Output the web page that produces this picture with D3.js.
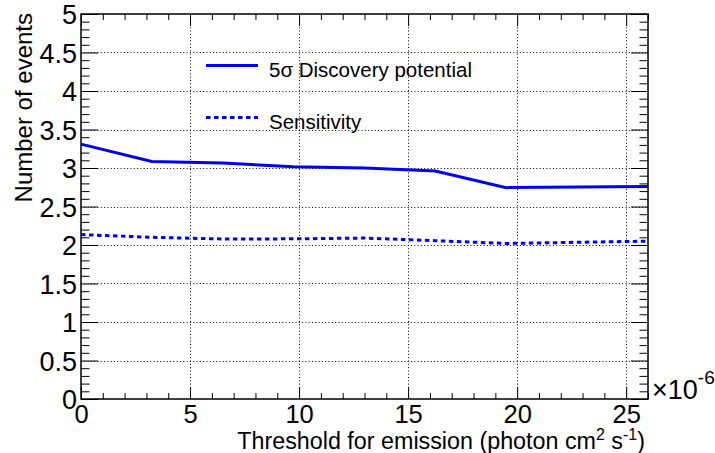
<!DOCTYPE html>
<html>
<head>
<meta charset="utf-8">
<script src="https://cdn.jsdelivr.net/npm/d3@7"></script>
<style>
  html, body { margin: 0; padding: 0; background: #fff; }
  svg { display: block; }
  text { font-family: "Liberation Sans", Arial, Helvetica, sans-serif; fill: #000; }
</style>
</head>
<body>
<svg id="chart" width="715" height="453"></svg>
<script>
// ---- data ----
const thresholds = [0, 3.25, 6.5, 9.75, 13, 16.25, 19.5, 26];           // ×10^-6 photon cm^-2 s^-1
const discovery = [3.31, 3.085, 3.065, 3.015, 3.0, 2.96, 2.745, 2.76];
const sensitivity = [2.135, 2.10, 2.078, 2.08, 2.09, 2.056, 2.02, 2.05];
const xTicks = [0, 5, 10, 15, 20, 25];
const yTicks = [0, 0.5, 1, 1.5, 2, 2.5, 3, 3.5, 4, 4.5, 5];
const yTickLabels = ["0", "0.5", "1", "1.5", "2", "2.5", "3", "3.5", "4", "4.5", "5"];
const legendLabels = ["5σ Discovery potential", "Sensitivity"];
const xTitle = "Threshold for emission (photon cm";
const yTitle = "Number of events";

// ---- layout ----
const L = 81, R = 648, T = 14, B = 399;
const svg = d3.select("#chart");
const x = d3.scaleLinear().domain([0, 26]).range([L, R]);
const y = d3.scaleLinear().domain([0, 5]).range([B, T]);

// grid
const grid = svg.append("g").attr("stroke", "#000").attr("stroke-width", 1)
  .attr("stroke-dasharray", "1,2.3").attr("fill", "none");
grid.selectAll("line.gx").data(xTicks.filter(v => v > 0)).join("line")
  .attr("x1", d => Math.round(x(d)) + 0.5).attr("x2", d => Math.round(x(d)) + 0.5)
  .attr("y1", T).attr("y2", B);
grid.selectAll("line.gy").data(yTicks.filter(v => v > 0 && v < 5)).join("line")
  .attr("y1", d => Math.round(y(d)) + 0.5).attr("y2", d => Math.round(y(d)) + 0.5)
  .attr("x1", L).attr("x2", R);

// ticks (all four sides) using d3 axes
const xMinor = d3.range(0, 26.001, 1);
const yMinor = d3.range(0, 5.0001, 0.1).map(v => +v.toFixed(1));
function isMajorY(v) { return Math.abs(v * 2 - Math.round(v * 2)) < 1e-6; }

const tickG = svg.append("g");
tickG.append("g").attr("transform", `translate(0,${B})`)
  .call(d3.axisTop(x).tickValues(xMinor).tickSize(0).tickFormat(""))
  .call(g => g.select(".domain").remove())
  .call(g => g.selectAll(".tick line").attr("y2", d => d % 5 === 0 ? -12 : -6).attr("stroke", "#000"));
tickG.append("g").attr("transform", `translate(0,${T})`)
  .call(d3.axisBottom(x).tickValues(xMinor).tickSize(0).tickFormat(""))
  .call(g => g.select(".domain").remove())
  .call(g => g.selectAll(".tick line").attr("y2", d => d % 5 === 0 ? 12 : 6).attr("stroke", "#000"));
tickG.append("g").attr("transform", `translate(${L},0)`)
  .call(d3.axisRight(y).tickValues(yMinor).tickSize(0).tickFormat(""))
  .call(g => g.select(".domain").remove())
  .call(g => g.selectAll(".tick line").attr("x2", d => isMajorY(d) ? 17 : 8.5).attr("stroke", "#000"));
tickG.append("g").attr("transform", `translate(${R},0)`)
  .call(d3.axisLeft(y).tickValues(yMinor).tickSize(0).tickFormat(""))
  .call(g => g.select(".domain").remove())
  .call(g => g.selectAll(".tick line").attr("x2", d => isMajorY(d) ? -17 : -8.5).attr("stroke", "#000"));

// tick labels
const xLab = svg.append("g").attr("transform", `translate(0,${B})`)
  .call(d3.axisBottom(x).tickValues(xTicks).tickSize(0).tickPadding(0).tickFormat(d3.format("d")));
xLab.select(".domain").remove();
xLab.selectAll("text").attr("font-size", 25.5).attr("dy", null).attr("y", 23.5)
  .attr("font-family", "'Liberation Sans', Arial, sans-serif").attr("fill", "#000");

const yLab = svg.append("g").attr("transform", `translate(${L},0)`)
  .call(d3.axisLeft(y).tickValues(yTicks).tickSize(0).tickPadding(4).tickFormat((d, i) => yTickLabels[i]));
yLab.select(".domain").remove();
yLab.selectAll("text").attr("font-size", 27).attr("dy", "0.36em")
  .attr("font-family", "'Liberation Sans', Arial, sans-serif").attr("fill", "#000");

// frame
svg.append("rect").attr("x", L).attr("y", T).attr("width", R - L).attr("height", B - T)
  .attr("fill", "none").attr("stroke", "#000").attr("stroke-width", 1.5);

// data lines
const line = d3.line().x((d, i) => x(thresholds[i])).y(d => y(d));
svg.append("path").datum(discovery).attr("d", line)
  .attr("fill", "none").attr("stroke", "#0000ff").attr("stroke-width", 3);
svg.append("path").datum(sensitivity).attr("d", line)
  .attr("fill", "none").attr("stroke", "#0000ff").attr("stroke-width", 3)
  .attr("stroke-dasharray", "4.5,3.5");

// legend
const leg = svg.append("g");
const legY = [65.5, 117.5];
leg.append("line").attr("x1", 206).attr("x2", 258).attr("y1", legY[0]).attr("y2", legY[0])
  .attr("stroke", "#0000ff").attr("stroke-width", 3);
leg.append("line").attr("x1", 206).attr("x2", 258).attr("y1", legY[1]).attr("y2", legY[1])
  .attr("stroke", "#0000ff").attr("stroke-width", 3).attr("stroke-dasharray", "4.5,3.5");
leg.selectAll("text").data(legendLabels).join("text")
  .attr("x", 269).attr("y", (d, i) => legY[i] + 11.5)
  .attr("font-size", 20.5).text(d => d);

// x title
const xt = svg.append("text").attr("x", 645).attr("y", 449).attr("text-anchor", "end").attr("font-size", 23.3);
xt.append("tspan").text(xTitle);
xt.append("tspan").attr("font-size", 16).attr("dy", -9).text("2");
xt.append("tspan").attr("font-size", 23.3).attr("dy", 9).text(" s");
xt.append("tspan").attr("font-size", 16).attr("dy", -9).text("-1");
xt.append("tspan").attr("font-size", 23.3).attr("dy", 9).text(")");

// y title
svg.append("text").attr("transform", "translate(32,13) rotate(-90)")
  .attr("text-anchor", "end").attr("font-size", 24).text(yTitle);

// exponent label
const ex = svg.append("text").attr("x", 652).attr("y", 399).attr("font-size", 27);
ex.append("tspan").text("×10");
ex.append("tspan").attr("font-size", 19).attr("dy", -15).text("-6");
</script>
</body>
</html>
